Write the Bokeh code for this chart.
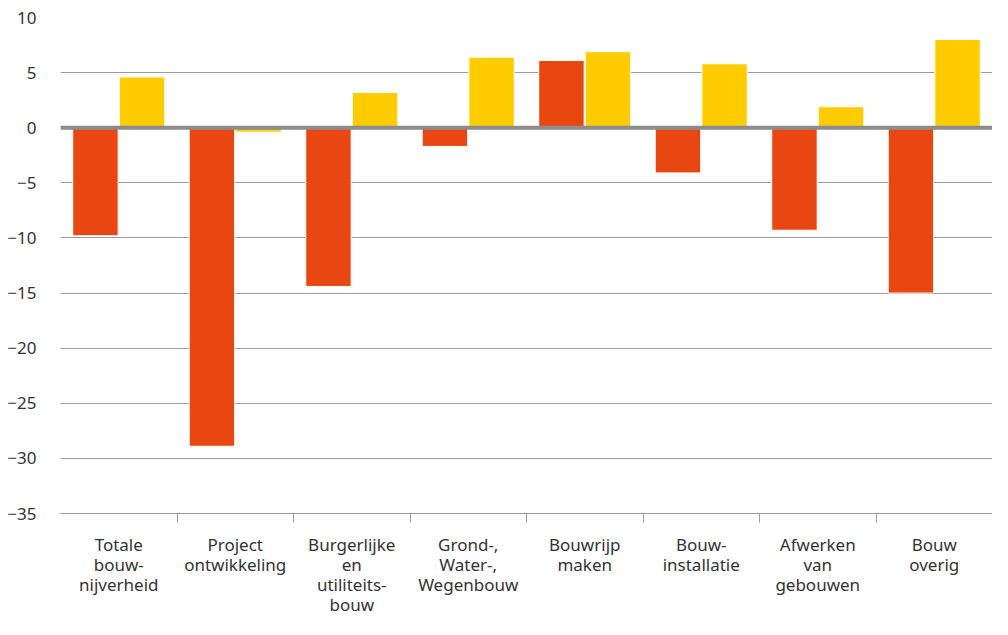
from bokeh.plotting import figure
from bokeh.models import (ColumnDataSource, Range1d, LinearAxis, FixedTicker, Span)
from bokeh.transform import dodge
from bokeh.embed import file_html
from bokeh.resources import INLINE

categories = ["Totale\nbouw-\nnijverheid", "Project\nontwikkeling", "Burgerlijke\nen\nutiliteits-\nbouw",
              "Grond-,\nWater-,\nWegenbouw", "Bouwrijp\nmaken", "Bouw-\ninstallatie",
              "Afwerken\nvan\ngebouwen", "Bouw\noverig"]
series_red = [-9.8, -28.9, -14.4, -1.7, 6.1, -4.1, -9.3, -15.0]
series_yellow = [4.6, -0.4, 3.2, 6.4, 6.9, 5.8, 1.9, 8.0]
y_ticks = [-35, -30, -25, -20, -15, -10, -5, 0, 5, 10]

RED = "#E84711"
YELLOW = "#FFCC00"
GRID = "#9c9c9c"
FONT = "Noto Sans"

n = len(categories)
centers = [i + 0.5 for i in range(n)]
source = ColumnDataSource(dict(x=centers, red=series_red, yellow=series_yellow))

p = figure(width=992, height=619, output_backend="svg", toolbar_location=None,
           x_range=Range1d(0, n), y_range=Range1d(y_ticks[0], y_ticks[-1]),
           x_axis_location=None, y_axis_location=None)
p.min_border_left = 60
p.min_border_right = 0
p.min_border_top = 17
p.min_border_bottom = 0
p.outline_line_color = None
p.background_fill_color = "white"
p.border_fill_color = "white"

# y axis (labels only)
yaxis = LinearAxis(ticker=FixedTicker(ticks=y_ticks, minor_ticks=[]))
yaxis.major_label_overrides = {t: (str(t).replace("-", "\u2212")) for t in y_ticks}
yaxis.axis_line_color = None
yaxis.major_tick_line_color = None
yaxis.minor_tick_line_color = None
yaxis.major_tick_out = 0
yaxis.major_label_standoff = 24
yaxis.major_label_text_font = FONT
yaxis.major_label_text_font_size = "17px"
yaxis.major_label_text_color = "#333333"
p.add_layout(yaxis, "left")

# x axis with tick marks between categories
xaxis_ticks = LinearAxis(ticker=FixedTicker(ticks=[i for i in range(1, n)], minor_ticks=[]))
xaxis_ticks.major_label_overrides = {i: "" for i in range(1, n)}
xaxis_ticks.major_label_text_font_size = "0px"
xaxis_ticks.major_label_standoff = 0
xaxis_ticks.axis_line_color = GRID
xaxis_ticks.axis_line_width = 1
xaxis_ticks.major_tick_line_color = GRID
xaxis_ticks.major_tick_out = 9
xaxis_ticks.major_tick_in = 0
xaxis_ticks.minor_tick_line_color = None
p.add_layout(xaxis_ticks, "below")

# x axis category labels
xaxis_labels = LinearAxis(ticker=FixedTicker(ticks=centers, minor_ticks=[]))
xaxis_labels.major_label_overrides = {c: lab for c, lab in zip(centers, categories)}
xaxis_labels.axis_line_color = None
xaxis_labels.major_tick_line_color = None
xaxis_labels.minor_tick_line_color = None
xaxis_labels.major_tick_out = 0
xaxis_labels.major_label_standoff = 10
xaxis_labels.major_label_text_font = FONT
xaxis_labels.major_label_text_font_size = "17px"
xaxis_labels.major_label_text_color = "#333333"
xaxis_labels.major_label_text_line_height = 0.88
p.add_layout(xaxis_labels, "below")

p.xgrid.grid_line_color = None
p.ygrid.ticker = FixedTicker(ticks=y_ticks, minor_ticks=[])
p.ygrid.grid_line_color = GRID
p.ygrid.grid_line_width = 1

p.vbar(x=dodge("x", -0.2, range=p.x_range), top="red", bottom=0, width=0.39, source=source,
       fill_color=RED, line_color="white", line_width=1)
p.vbar(x=dodge("x", 0.2, range=p.x_range), top="yellow", bottom=0, width=0.39, source=source,
       fill_color=YELLOW, line_color="white", line_width=1)

p.add_layout(Span(location=0, dimension="width", line_color="#8c8c8c", line_width=4))

open("out.html", "w").write(file_html(p, INLINE))
